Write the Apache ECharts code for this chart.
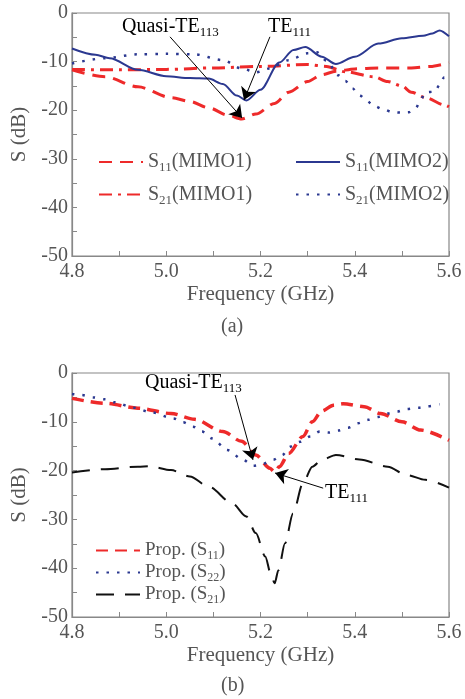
<!DOCTYPE html>
<html><head><meta charset="utf-8">
<script src="https://cdn.jsdelivr.net/npm/echarts@6/dist/echarts.min.js"></script>
<style>html,body{margin:0;padding:0;background:#fff}#c{width:465px;height:699px}</style>
</head><body><div id="c"></div>
<script>
// ---------- (a) ----------
const a_s11m1_f = [4.80,4.87,4.94,5.01,5.05,5.09,5.13,5.16,5.19,5.23,5.26,5.30,5.33,5.36,5.40,5.45,5.52,5.56,5.60];
const a_s11m1_v = [-11.7,-13.1,-15.2,-17.4,-18.2,-19.5,-21.0,-21.8,-20.8,-18.6,-16.3,-14.1,-12.7,-12.0,-11.5,-11.3,-11.3,-11.0,-10.2];
const a_s21m1_f = [4.80,4.90,5.00,5.10,5.20,5.30,5.34,5.38,5.44,5.47,5.50,5.52,5.55,5.59,5.60];
const a_s21m1_v = [-11.6,-11.7,-11.6,-11.3,-11.0,-10.6,-11.0,-12.1,-13.1,-14.1,-15.0,-16.3,-17.4,-18.9,-19.3];
const a_s11m2_f = [4.80,4.85,4.88,4.94,5.00,5.05,5.09,5.12,5.15,5.17,5.20,5.24,5.27,5.295,5.33,5.36,5.40,5.45,5.50,5.545,5.565,5.58,5.60];
const a_s11m2_v = [-7.3,-8.6,-9.3,-11.7,-13.0,-13.4,-13.5,-14.6,-17.0,-18.0,-15.8,-10.2,-7.6,-7.0,-9.0,-10.5,-9.0,-6.3,-5.2,-4.7,-4.2,-3.6,-4.8];
const a_s21m2_f = [4.80,4.87,4.94,5.00,5.06,5.12,5.16,5.19,5.22,5.26,5.30,5.32,5.34,5.365,5.38,5.395,5.41,5.425,5.44,5.46,5.48,5.50,5.515,5.53,5.54,5.55,5.57,5.58,5.59,5.60];
const a_s21m2_v = [-10.4,-9.3,-8.5,-8.4,-8.5,-9.7,-11.4,-12.2,-11.4,-9.7,-8.3,-8.1,-9.8,-12.8,-14.0,-15.5,-16.9,-18.0,-19.1,-19.8,-20.4,-20.5,-20.4,-19.5,-17.8,-16.3,-16.2,-14.8,-13.2,-12.5];
// ---------- (b) ----------
const b_s11_f = [4.80,4.87,4.94,5.01,5.06,5.12,5.16,5.19,5.22,5.23,5.24,5.26,5.29,5.31,5.33,5.355,5.375,5.42,5.455,5.50,5.54,5.60];
const b_s11_v = [-5.2,-6.2,-7.2,-8.3,-9.5,-12.0,-14.0,-16.8,-19.5,-20.3,-19.2,-16.5,-13.0,-10.0,-7.8,-6.6,-6.3,-6.9,-8.3,-10.0,-11.7,-13.8];
const b_s22_f = [4.80,4.82,4.845,4.87,4.89,4.93,4.97,5.015,5.036,5.057,5.076,5.097,5.13,5.163,5.185,5.20,5.227,5.246,5.263,5.284,5.305,5.326,5.345,5.365,5.386,5.407,5.428,5.45,5.47,5.49,5.51,5.535,5.555,5.58];
const b_s22_v = [-4.3,-4.5,-5.0,-5.4,-6.0,-7.1,-8.1,-9.3,-10.1,-11.0,-12.0,-13.4,-15.8,-17.8,-19.0,-18.8,-17.8,-16.8,-15.1,-14.1,-13.0,-12.0,-12.2,-11.8,-11.2,-10.3,-9.6,-9.0,-8.3,-7.9,-7.4,-7.1,-6.8,-6.4];
const b_s21_f = [4.80,4.87,4.94,4.965,5.01,5.05,5.09,5.14,5.17,5.19,5.21,5.222,5.23,5.238,5.252,5.269,5.29,5.31,5.33,5.36,5.41,5.47,5.51,5.55,5.60];
const b_s21_v = [-20.4,-19.7,-19.2,-19.1,-19.9,-21.2,-23.3,-26.7,-29.4,-32.8,-37.6,-41.2,-43.1,-40.4,-34.9,-28.8,-22.6,-19.2,-17.8,-16.8,-17.7,-19.2,-20.9,-21.9,-23.5];

const xTicks = [4.8, 5.6, 0.2];
const yTicks = [-50, 0, 10];

const FONT = 'Liberation Serif';
const TXT = '#555555';
const RED = '#ee2a2a', BLUE = '#2b3890', BLACK = '#111';
const pairs = (f, v) => f.map((x, i) => [x, v[i]]);

const richStyles = {
  n: {fontSize: 20, fontFamily: FONT, color: TXT},
  s: {fontSize: 13, fontFamily: FONT, color: TXT, padding: [12, 0, 0, 0]},
  n2: {fontSize: 19, fontFamily: FONT, color: TXT},
  s2: {fontSize: 12, fontFamily: FONT, color: TXT, padding: [11, 0, 0, 0]}
};
const legendRich = {
  'S11(MIMO1)': '{n|S}{s|11}{n|(MIMO1)}',
  'S21(MIMO1)': '{n|S}{s|21}{n|(MIMO1)}',
  'S11(MIMO2)': '{n|S}{s|11}{n|(MIMO2)}',
  'S21(MIMO2)': '{n|S}{s|21}{n|(MIMO2)}',
  'Prop. (S11)': '{n2|Prop. (S}{s2|11}{n2|)}',
  'Prop. (S22)': '{n2|Prop. (S}{s2|22}{n2|)}',
  'Prop. (S21)': '{n2|Prop. (S}{s2|21}{n2|)}'
};

function xAx(idx) {
  return {
    type: 'value', gridIndex: idx, min: xTicks[0], max: xTicks[1], interval: xTicks[2],
    name: 'Frequency (GHz)', nameLocation: 'middle', nameGap: 28,
    nameTextStyle: {fontFamily: FONT, fontSize: 21, color: TXT, fontWeight: 'normal'},
    axisLine: {onZero: false, lineStyle: {color: '#888', width: 1.2}},
    axisTick: {inside: true, length: 5, lineStyle: {color: '#888'}},
    minorTick: {show: true, splitNumber: 2, length: 5, lineStyle: {color: '#888'}},
    axisLabel: {fontFamily: FONT, fontSize: 20, color: TXT, margin: 6, formatter: v => v.toFixed(1)},
    splitLine: {show: false}
  };
}
function yAx(idx) {
  return {
    type: 'value', gridIndex: idx, min: yTicks[0], max: yTicks[1], interval: yTicks[2],
    name: 'S (dB)', nameLocation: 'middle', nameGap: 38,
    nameTextStyle: {fontFamily: FONT, fontSize: 21, color: TXT, fontWeight: 'normal'},
    axisLine: {lineStyle: {color: '#888', width: 1.2}},
    axisTick: {inside: true, length: 5, lineStyle: {color: '#888'}},
    minorTick: {show: true, splitNumber: 2, length: 5, lineStyle: {color: '#888'}},
    axisLabel: {fontFamily: FONT, fontSize: 20, color: TXT, margin: 4},
    splitLine: {show: false}
  };
}
function ser(name, f, v, grid, color, width, type) {
  return {
    name, type: 'line', xAxisIndex: grid, yAxisIndex: grid, data: pairs(f, v),
    symbol: 'none', smooth: 0.3, smoothMonotone: 'x',
    lineStyle: {color, width, type},
    itemStyle: {color}
  };
}
const arrowLine = (data) => ({
  silent: true, symbol: ['none', 'arrow'], symbolSize: 12, animation: false,
  lineStyle: {color: '#000', width: 1, type: 'solid'},
  label: {show: false}, emphasis: {disabled: true}, data
});

const s1 = ser('S11(MIMO1)', a_s11m1_f, a_s11m1_v, 0, RED, 3, [13, 8]);
const s2 = ser('S21(MIMO1)', a_s21m1_f, a_s21m1_v, 0, RED, 3, [13, 6, 3, 6]);
const s3 = ser('S11(MIMO2)', a_s11m2_f, a_s11m2_v, 0, BLUE, 2, 'solid');
const s4 = ser('S21(MIMO2)', a_s21m2_f, a_s21m2_v, 0, BLUE, 2.5, [2.5, 8]);
s3.markLine = arrowLine([
  [{coord: [5.008, -4.9]}, {coord: [5.161, -21.6]}],
  [{coord: [5.220, -4.9]}, {coord: [5.165, -17.9]}]
]);
const t1 = ser('Prop. (S11)', b_s11_f, b_s11_v, 1, RED, 3.5, [12, 7]);
const t2 = ser('Prop. (S22)', b_s22_f, b_s22_v, 1, BLUE, 2.5, [2.5, 8]);
const t3 = ser('Prop. (S21)', b_s21_f, b_s21_v, 1, BLACK, 2, [18, 11]);
t3.markLine = arrowLine([
  [{coord: [5.146, -4.5]}, {coord: [5.184, -17.8]}],
  [{coord: [5.333, -23.6]}, {coord: [5.231, -20.5]}]
]);

const legendBase = {
  orient: 'vertical', itemWidth: 44, itemHeight: 14,
  itemStyle: {opacity: 0}, selectedMode: false,
  formatter: n => legendRich[n],
  textStyle: {fontFamily: FONT, color: TXT, rich: richStyles}
};

const chart = echarts.init(document.getElementById('c'), null, {renderer: 'canvas'});
chart.setOption({
  animation: false,
  backgroundColor: '#fff',
  textStyle: {fontFamily: FONT, color: TXT},
  grid: [
    {left: 72, top: 13, width: 377, height: 243, show: true, borderColor: '#888', borderWidth: 1.2, backgroundColor: 'transparent'},
    {left: 72, top: 373, width: 377, height: 244, show: true, borderColor: '#888', borderWidth: 1.2, backgroundColor: 'transparent'}
  ],
  xAxis: [xAx(0), xAx(1)],
  yAxis: [yAx(0), yAx(1)],
  legend: [
    Object.assign({}, legendBase, {left: 93, top: 147, itemGap: 10, data: ['S11(MIMO1)', 'S21(MIMO1)']}),
    Object.assign({}, legendBase, {left: 290, top: 147, itemGap: 10, data: ['S11(MIMO2)', 'S21(MIMO2)']}),
    Object.assign({}, legendBase, {left: 90, top: 536, itemGap: 1, data: ['Prop. (S11)', 'Prop. (S22)', 'Prop. (S21)']})
  ],
  series: [s1, s2, s3, s4, t1, t2, t3],
  graphic: [
    {type: 'text', left: 122, top: 17, style: {text: '{n|Quasi-TE}{s|113}', rich: richStyles}},
    {type: 'text', left: 268, top: 17, style: {text: '{n|TE}{s|111}', rich: richStyles}},
    {type: 'text', left: 145, top: 373, style: {text: '{n|Quasi-TE}{s|113}', rich: richStyles}},
    {type: 'text', left: 325, top: 483, style: {text: '{n|TE}{s|111}', rich: richStyles}},
    {type: 'text', left: 221, top: 317, style: {text: '(a)', font: "20px 'Liberation Serif'", fill: TXT}},
    {type: 'text', left: 221, top: 676, style: {text: '(b)', font: "20px 'Liberation Serif'", fill: TXT}}
  ]
});
</script></body></html>
